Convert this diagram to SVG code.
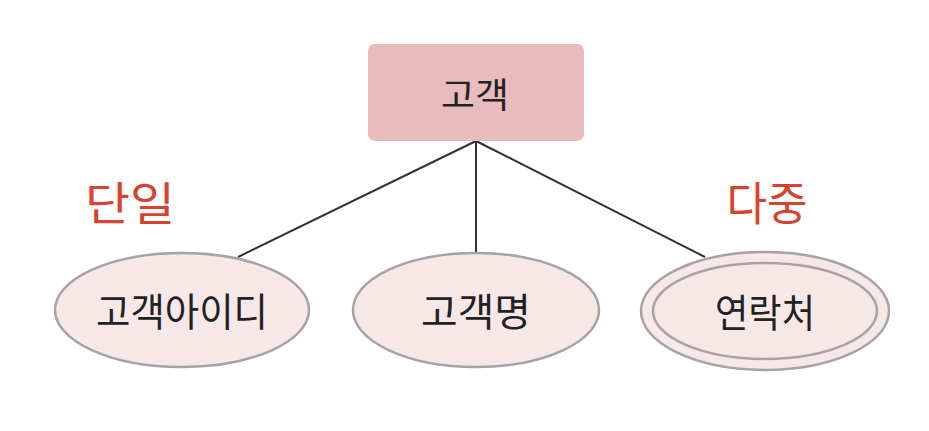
<svg xmlns="http://www.w3.org/2000/svg" width="929" height="431" viewBox="0 0 929 431">
<style>
text{font-family:"Noto Sans CJK KR","Noto Sans",sans-serif;text-anchor:middle;dominant-baseline:central}
.lbl{font-size:39px;fill:#222}
.red{font-size:46px;fill:#d8432f}
.ell{fill:#f7e8e8;stroke:#aaa2a2;stroke-width:2.5}
.con{stroke:#333;stroke-width:2;fill:none}
</style>
<rect width="929" height="431" fill="#fff"/>
<g id="connectors">
<line class="con" x1="476" y1="141" x2="238" y2="257"/>
<line class="con" x1="476" y1="141" x2="476" y2="253"/>
<line class="con" x1="476" y1="141" x2="705" y2="257"/>
</g>
<g id="customer">
<rect x="368" y="44" width="216" height="97" rx="7" fill="#e8bcbc"/>
<text class="lbl" x="475" y="92" style="font-size:35px" textLength="68" lengthAdjust="spacingAndGlyphs">고객</text>
</g>
<g id="customer-id">
<ellipse class="ell" cx="182" cy="310" rx="127" ry="57"/>
<text class="lbl" x="182" y="309" textLength="172" lengthAdjust="spacingAndGlyphs">고객아이디</text>
</g>
<g id="customer-name">
<ellipse class="ell" cx="476" cy="310" rx="123" ry="57"/>
<text class="lbl" x="476" y="309" textLength="110" lengthAdjust="spacingAndGlyphs">고객명</text>
</g>
<g id="contact">
<ellipse class="ell" cx="765" cy="311" rx="124" ry="59"/>
<ellipse class="ell" cx="765" cy="311" rx="112" ry="48"/>
<text class="lbl" x="765" y="310" textLength="100" lengthAdjust="spacingAndGlyphs">연락처</text>
</g>
<text class="red" x="130" y="200" textLength="90" lengthAdjust="spacingAndGlyphs">단일</text>
<text class="red" x="767" y="200" textLength="81" lengthAdjust="spacingAndGlyphs">다중</text>
</svg>
